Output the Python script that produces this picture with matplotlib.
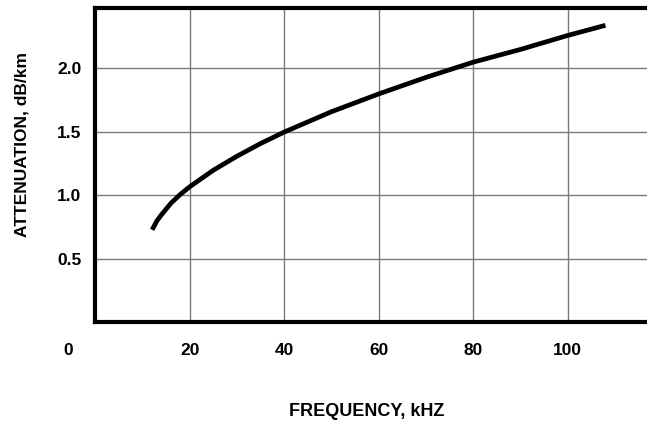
import matplotlib
matplotlib.use("Agg")
import matplotlib.pyplot as plt

# Cable attenuation versus frequency
freq_khz = [12, 13, 14, 16, 18, 20, 25, 30, 35, 40, 50, 60, 70, 80, 90, 100, 108]
atten_db_km = [0.73, 0.80, 0.85, 0.94, 1.01, 1.07, 1.20, 1.31, 1.41, 1.50, 1.66, 1.80, 1.93, 2.05, 2.15, 2.26, 2.34]

x_ticks = [20, 40, 60, 80, 100]
y_ticks = [0.5, 1.0, 1.5, 2.0]
y_tick_labels = ["0.5", "1.0", "1.5", "2.0"]

plt.rcParams["font.family"] = ["Liberation Sans", "DejaVu Sans"]
plt.rcParams["font.weight"] = "bold"

fig = plt.figure(figsize=(6.47, 4.23), dpi=100)
ax = fig.add_axes([0.1476, 0.2376, 0.8524, 0.7434])

ax.set_xlim(0, 116.8)
ax.set_ylim(0, 2.476)

ax.set_xticks(x_ticks)
ax.set_xticklabels([str(t) for t in x_ticks], fontsize=12.5, fontweight="bold")
ax.set_yticks(y_ticks)
ax.set_yticklabels(y_tick_labels, fontsize=12.5, fontweight="bold")
ax.tick_params(axis="x", length=0, pad=15)
ax.tick_params(axis="y", length=0, pad=10)

ax.grid(True, color="#7a7a7a", linewidth=1.0)
ax.set_axisbelow(True)

for side in ["left", "bottom", "top"]:
    ax.spines[side].set_linewidth(3.0)
    ax.spines[side].set_color("black")
ax.spines["right"].set_visible(False)

ax.plot(freq_khz, atten_db_km, color="black", linewidth=3.4,
        solid_capstyle="butt", solid_joinstyle="round")

# origin label sits out to the left of the vertical axis
ax.text(-5.8, -28 / 127, "0", ha="center", va="center", fontsize=12.5,
        fontweight="bold", clip_on=False)

fig.text(367 / 647, 1 - 411 / 423, "FREQUENCY, kHZ", ha="center", va="center",
         fontsize=13, fontweight="bold")
fig.text(22 / 647, 1 - 144 / 423, "ATTENUATION, dB/km", ha="center", va="center",
         rotation=90, fontsize=12.5, fontweight="bold")

fig.savefig("out.png", dpi=100)
